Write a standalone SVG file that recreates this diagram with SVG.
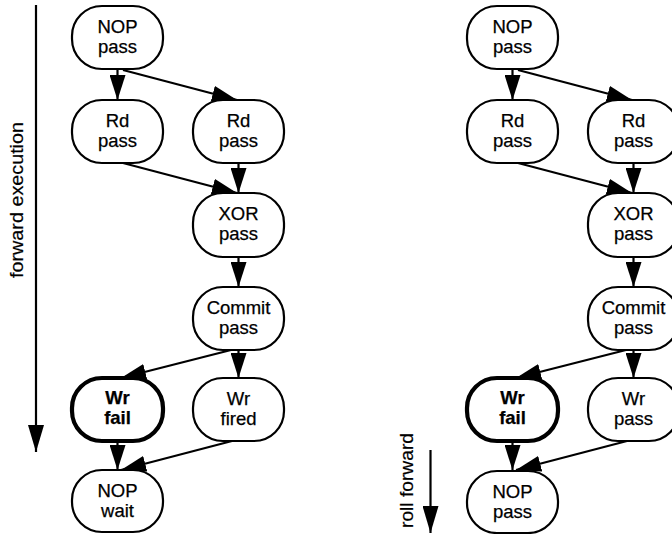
<svg xmlns="http://www.w3.org/2000/svg" width="672" height="534" viewBox="0 0 672 534">
<style>
.n rect{fill:#fff;stroke:#000;stroke-width:2.2}
.n.b rect{stroke-width:4.2}
.n text{font-family:"Liberation Sans",Arial,sans-serif;font-size:18.5px;text-anchor:middle;fill:#000;stroke:#000;stroke-width:0.25}
.n.b text{font-weight:bold}
.lbl{font-family:"Liberation Sans",Arial,sans-serif;font-size:19px;text-anchor:middle;fill:#000;stroke:#000;stroke-width:0.2}
.c line{stroke:#000;stroke-width:2.2;marker-end:url(#ah)}
</style>
<defs>
<marker id="ah" markerUnits="userSpaceOnUse" markerWidth="25" markerHeight="16" refX="25" refY="8" orient="auto">
<path d="M0,0 L25,8 L0,16 z" fill="#000"/>
</marker>
<marker id="ah2" markerUnits="userSpaceOnUse" markerWidth="27" markerHeight="16" refX="27" refY="8" orient="auto">
<path d="M0,0 L27,8 L0,16 z" fill="#000"/>
</marker>
</defs>
<rect width="672" height="534" fill="#fff"/>

<g id="axis-left">
<line x1="36" y1="5" x2="36" y2="452" stroke="#000" stroke-width="2.2" marker-end="url(#ah2)"/>
<text class="lbl" transform="translate(23,200) rotate(-90)" textLength="156" lengthAdjust="spacingAndGlyphs">forward execution</text>
</g>
<g id="axis-right">
<line x1="430.5" y1="450" x2="430.5" y2="533" stroke="#000" stroke-width="2.2" marker-end="url(#ah2)"/>
<text class="lbl" transform="translate(413,480.5) rotate(-90)" textLength="95" lengthAdjust="spacingAndGlyphs">roll forward</text>
</g>

<g id="connectors" class="c">
<line x1="117.5" y1="70" x2="117.5" y2="100"/>
<line x1="123" y1="70" x2="237" y2="100"/>
<line x1="123" y1="163" x2="237" y2="193"/>
<line x1="238.5" y1="163" x2="238.5" y2="193"/>
<line x1="238.5" y1="257" x2="238.5" y2="287"/>
<line x1="231" y1="350" x2="121" y2="378"/>
<line x1="238.5" y1="350" x2="238.5" y2="378"/>
<line x1="117.5" y1="441" x2="117.5" y2="470"/>
<line x1="232" y1="441" x2="121" y2="470"/>

<line x1="512.5" y1="70" x2="512.5" y2="100"/>
<line x1="518" y1="70" x2="632" y2="100"/>
<line x1="518" y1="163" x2="632" y2="193"/>
<line x1="633.5" y1="163" x2="633.5" y2="193"/>
<line x1="633.5" y1="257" x2="633.5" y2="287"/>
<line x1="626" y1="350" x2="516" y2="378"/>
<line x1="633.5" y1="350" x2="633.5" y2="378"/>
<line x1="512.5" y1="441" x2="512.5" y2="470"/>
<line x1="627" y1="441" x2="516" y2="470"/>
</g>

<g id="L-nop1" class="n"><rect x="72" y="6" width="91" height="63" rx="30" ry="30"/><text x="117.5" y="33">NOP</text><text x="117.5" y="53">pass</text></g>
<g id="L-rd1" class="n"><rect x="72" y="100" width="91" height="63" rx="30" ry="30"/><text x="117.5" y="127">Rd</text><text x="117.5" y="147">pass</text></g>
<g id="L-rd2" class="n"><rect x="193" y="100" width="91" height="63" rx="30" ry="30"/><text x="238.5" y="127">Rd</text><text x="238.5" y="147">pass</text></g>
<g id="L-xor" class="n"><rect x="193" y="193" width="91" height="64" rx="30" ry="30"/><text x="238.5" y="220">XOR</text><text x="238.5" y="240">pass</text></g>
<g id="L-commit" class="n"><rect x="193" y="287" width="91" height="63" rx="30" ry="30"/><text x="238.5" y="314">Commit</text><text x="238.5" y="334">pass</text></g>
<g id="L-wrfail" class="n b"><rect x="72" y="378" width="91" height="63" rx="30" ry="30"/><text x="117.5" y="404">Wr</text><text x="117.5" y="424">fail</text></g>
<g id="L-wrfired" class="n"><rect x="193" y="378" width="91" height="63" rx="30" ry="30"/><text x="238.5" y="405">Wr</text><text x="238.5" y="425">fired</text></g>
<g id="L-nopwait" class="n"><rect x="72" y="470" width="91" height="62" rx="30" ry="30"/><text x="117.5" y="497">NOP</text><text x="117.5" y="517">wait</text></g>

<g id="R-nop1" class="n"><rect x="467" y="6" width="91" height="63" rx="30" ry="30"/><text x="512.5" y="33">NOP</text><text x="512.5" y="53">pass</text></g>
<g id="R-rd1" class="n"><rect x="467" y="100" width="91" height="63" rx="30" ry="30"/><text x="512.5" y="127">Rd</text><text x="512.5" y="147">pass</text></g>
<g id="R-rd2" class="n"><rect x="588" y="100" width="91" height="63" rx="30" ry="30"/><text x="633.5" y="127">Rd</text><text x="633.5" y="147">pass</text></g>
<g id="R-xor" class="n"><rect x="588" y="193" width="91" height="64" rx="30" ry="30"/><text x="633.5" y="220">XOR</text><text x="633.5" y="240">pass</text></g>
<g id="R-commit" class="n"><rect x="588" y="287" width="91" height="63" rx="30" ry="30"/><text x="633.5" y="314">Commit</text><text x="633.5" y="334">pass</text></g>
<g id="R-wrfail" class="n b"><rect x="467" y="378" width="91" height="63" rx="30" ry="30"/><text x="512.5" y="404">Wr</text><text x="512.5" y="424">fail</text></g>
<g id="R-wrpass" class="n"><rect x="588" y="378" width="91" height="63" rx="30" ry="30"/><text x="633.5" y="405">Wr</text><text x="633.5" y="425">pass</text></g>
<g id="R-noppass" class="n"><rect x="467" y="471" width="91" height="62" rx="30" ry="30"/><text x="512.5" y="498">NOP</text><text x="512.5" y="518">pass</text></g>
</svg>
